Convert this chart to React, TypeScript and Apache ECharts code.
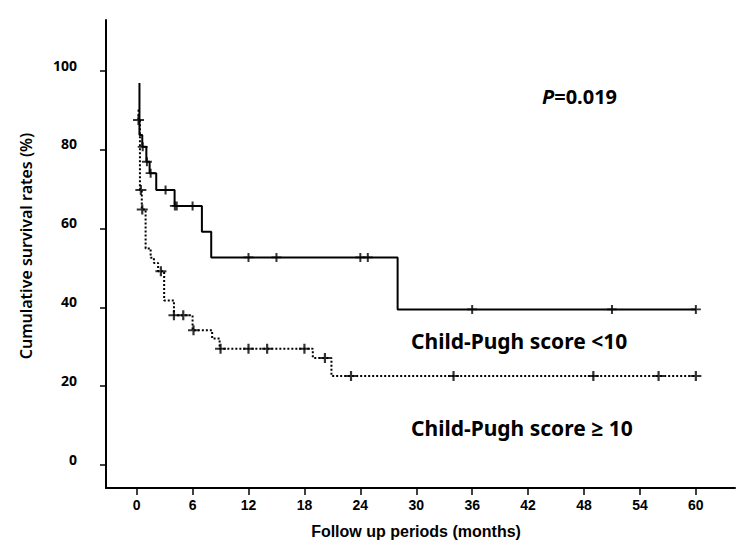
import React, { useEffect, useRef } from "react";
import * as echarts from "echarts";

// Tick labels
const xTicks = [0, 6, 12, 18, 24, 30, 36, 42, 48, 54, 60];
const yTicks = [0, 20, 40, 60, 80, 100];

// Child-Pugh score < 10 (solid): time of each step (months) and survival after it (%)
const lowTimes = [0.3, 0.3, 0.6, 1.04, 1.39, 2.1, 4.07, 7.0, 8.0, 28.0, 60.0];
const lowSurv = [97, 83.8, 80.8, 77.0, 74.1, 69.8, 65.8, 59.2, 52.7, 39.5, 39.5];
// censored observations
const lowCensorTimes = [0.65, 1.1, 1.5, 3.1, 4.1, 4.3, 6.0, 12, 15, 24, 24.8, 36, 51, 60];
const lowCensorSurv = [80.8, 77.0, 74.1, 69.8, 65.8, 65.8, 65.8, 52.7, 52.7, 52.7, 52.7, 39.5, 39.5, 39.5];

// Child-Pugh score >= 10 (dotted)
const highTimes = [0.1, 0.2, 0.35, 0.55, 0.96, 1.5, 1.85, 2.3, 2.95, 4.0, 6.0, 8.1, 8.9, 18.9, 20.9, 60.0];
const highSurv = [90, 87.6, 69.8, 64.9, 55.0, 52.6, 51.3, 49.2, 41.8, 38.0, 34.2, 32.1, 29.5, 27.2, 22.6, 22.6];
const highCensorTimes = [0.2, 0.45, 0.6, 2.6, 4.0, 5.0, 6.1, 9, 12, 14, 18, 20.2, 23, 34, 49, 56, 60];
const highCensorSurv = [87.6, 69.8, 64.9, 49.2, 38.0, 38.0, 34.2, 29.5, 29.5, 29.5, 29.5, 27.2, 22.6, 22.6, 22.6, 22.6, 22.6];

const pairs = (xs: number[], ys: number[]) => xs.map((x, i) => [x, ys[i]]);

const PLUS = "path://M4 0H6V4H10V6H6V10H4V6H0V4H4Z";
const UI_FONT = "'Noto Sans', 'Open Sans', sans-serif";

export default function App() {
  const ref = useRef<HTMLDivElement>(null);

  useEffect(() => {
    if (!ref.current) return;
    const chart = echarts.init(ref.current, undefined, { renderer: "svg" });
    chart.setOption({
      animation: false,
      backgroundColor: "#ffffff",
      grid: { left: 106, top: 20, right: 3, bottom: 61 },
      xAxis: {
        type: "value",
        min: -3.29,
        max: 64.2,
        splitLine: { show: false },
        axisLine: { onZero: false, lineStyle: { color: "#000", width: 2 } },
        axisTick: {
          customValues: xTicks,
          length: 7,
          lineStyle: { color: "#000", width: 1.5 },
        },
        axisLabel: {
          customValues: xTicks,
          color: "#000",
          fontFamily: "'Liberation Sans Narrow', 'Liberation Sans', sans-serif",
          fontWeight: "bold",
          fontSize: 14,
          margin: 10,
        },
      },
      yAxis: {
        type: "value",
        min: -5.84,
        max: 113,
        splitLine: { show: false },
        axisLine: { onZero: false, lineStyle: { color: "#000", width: 2 } },
        axisTick: {
          customValues: yTicks,
          length: 6,
          lineStyle: { color: "#000", width: 1.5 },
        },
        axisLabel: {
          customValues: yTicks,
          color: "#000",
          fontFamily: UI_FONT,
          fontWeight: "bold",
          fontSize: 14,
          margin: 29,
          verticalAlign: "bottom",
          lineHeight: 12,
        },
      },
      graphic: [
        {
          type: "text",
          x: 416,
          y: 531,
          style: {
            text: "Follow up periods (months)",
            fill: "#000",
            font: "bold 16px 'Liberation Sans', Arial, sans-serif",
            align: "center",
            verticalAlign: "middle",
          },
        },
        {
          type: "text",
          x: 26,
          y: 246,
          rotation: Math.PI / 2,
          style: {
            text: "Cumulative survival rates (%)",
            fill: "#000",
            font: "600 16px " + UI_FONT,
            align: "center",
            verticalAlign: "middle",
          },
        },
        {
          type: "text",
          x: 542,
          y: 96,
          style: {
            text: "{i|P}=0.019",
            fill: "#000",
            font: "bold 20px " + UI_FONT,
            verticalAlign: "middle",
            rich: {
              i: { fontStyle: "italic", fontWeight: "bold", fontSize: 20, fontFamily: UI_FONT },
            },
          },
        },
        {
          type: "text",
          x: 411,
          y: 341,
          style: {
            text: "Child-Pugh score <10",
            fill: "#000",
            font: "bold 21px " + UI_FONT,
            verticalAlign: "middle",
          },
        },
        {
          type: "text",
          x: 411,
          y: 428,
          style: {
            text: "Child-Pugh score \u2265 10",
            fill: "#000",
            font: "bold 21px " + UI_FONT,
            verticalAlign: "middle",
          },
        },
      ],
      series: [
        {
          name: "Child-Pugh score ≥10",
          type: "line",
          step: "end",
          data: pairs(highTimes, highSurv),
          showSymbol: false,
          lineStyle: { color: "#000", width: 2, type: [2, 2] },
          z: 2,
        },
        {
          name: "Child-Pugh score <10",
          type: "line",
          step: "end",
          data: pairs(lowTimes, lowSurv),
          showSymbol: false,
          lineStyle: { color: "#000", width: 2, type: "solid" },
          z: 3,
        },
        {
          name: "censored ≥10",
          type: "scatter",
          data: pairs(highCensorTimes, highCensorSurv),
          symbol: PLUS,
          symbolSize: [11, 10],
          itemStyle: { color: "#000" },
          z: 4,
        },
        {
          name: "censored <10",
          type: "scatter",
          data: pairs(lowCensorTimes, lowCensorSurv),
          symbol: PLUS,
          symbolSize: [10, 9],
          itemStyle: { color: "#000" },
          z: 4,
        },
      ],
    });
    return () => chart.dispose();
  }, []);

  return (
    <div
      ref={ref}
      style={{ position: "absolute", left: 0, top: 0, width: 738, height: 549 }}
    />
  );
}
